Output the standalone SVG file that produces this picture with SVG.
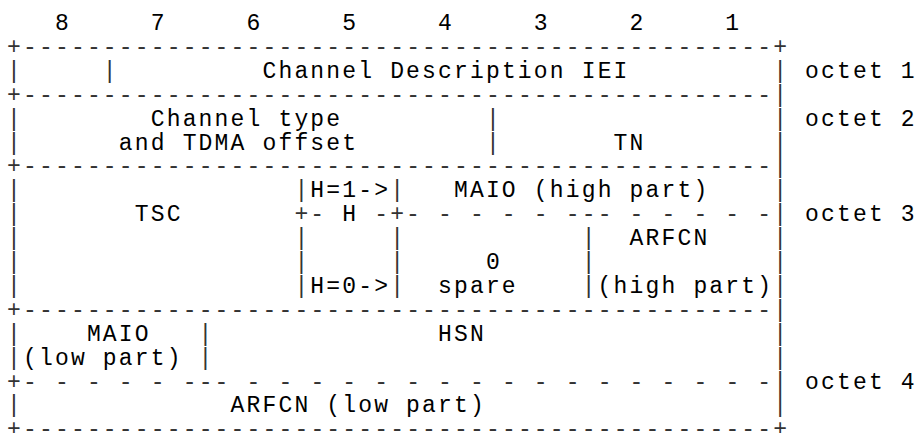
<svg xmlns="http://www.w3.org/2000/svg" width="919" height="433" viewBox="0 0 919 433">
<style>
.t { font-family: "Liberation Mono", "DejaVu Sans Mono", monospace; font-size: 23px; letter-spacing: 2.16px; fill: #000; white-space: pre; }
.f { fill: #333; }
</style>
<rect width="919" height="433" fill="#fff"/>
<g id="bit-numbers">
<text class="t" x="54.98 150.74 246.5 342.26 438.02 533.78 629.54 725.3" y="30">87654321</text>
</g>
<g id="connectors">
<text class="t f" x="7.1" y="53.9">+-----------------------------------------------+</text>
<text class="t f" x="7.1 102.86 773.18" y="77.8">|||</text>
<text class="t f" x="7.1" y="101.7">+-----------------------------------------------|</text>
<text class="t f" x="7.1 485.9 773.18" y="125.6">|||</text>
<text class="t f" x="7.1 485.9 773.18" y="149.5">|||</text>
<text class="t f" x="7.1" y="173.4">+-----------------------------------------------|</text>
<text class="t f" x="7.1 294.38 390.14 773.18" y="197.3">||||</text>
<text class="t f" x="7.1" y="221.2">|</text>
<text class="t f" x="294.38" y="221.2">+-</text>
<text class="t f" x="374.18" y="221.2">-+- - - - - --- - - - - -|</text>
<text class="t f" x="7.1 294.38 390.14 581.66 773.18" y="245.1">|||||</text>
<text class="t f" x="7.1 294.38 390.14 581.66 773.18" y="269">|||||</text>
<text class="t f" x="7.1 294.38 390.14 581.66 773.18" y="292.9">|||||</text>
<text class="t f" x="7.1" y="316.8">+-----------------------------------------------|</text>
<text class="t f" x="7.1 198.62 773.18" y="340.7">|||</text>
<text class="t f" x="7.1 198.62 773.18" y="364.6">|||</text>
<text class="t f" x="7.1" y="388.5">+- - - - - --- - - - - - - - - - - - - - - - - -|</text>
<text class="t f" x="7.1 773.18" y="412.4">||</text>
<text class="t f" x="7.1" y="435.5">+-----------------------------------------------+</text>
</g>
<g id="iei"><text class="t" x="262.46" y="77.8">Channel Description IEI</text></g>
<g id="channel-type">
<text class="t" x="150.74" y="125.6">Channel type</text>
<text class="t" x="118.82" y="149.5">and TDMA offset</text>
</g>
<g id="tn"><text class="t" x="613.58" y="149.5">TN</text></g>
<g id="tsc"><text class="t" x="134.78" y="221.2">TSC</text></g>
<g id="h-bit">
<text class="t" x="310.34" y="197.3">H=1-&gt;</text>
<text class="t" x="342.26" y="221.2">H</text>
<text class="t" x="310.34" y="292.9">H=0-&gt;</text>
</g>
<g id="maio-high"><text class="t" x="453.98" y="197.3">MAIO (high part)</text></g>
<g id="spare">
<text class="t" x="485.9" y="269">0</text>
<text class="t" x="438.02" y="292.9">spare</text>
</g>
<g id="arfcn-high">
<text class="t" x="629.54" y="245.1">ARFCN</text>
<text class="t" x="597.62" y="292.9">(high part)</text>
</g>
<g id="maio-low">
<text class="t" x="86.9" y="340.7">MAIO</text>
<text class="t" x="23.06" y="364.6">(low part)</text>
</g>
<g id="hsn"><text class="t" x="438.02" y="340.7">HSN</text></g>
<g id="arfcn-low"><text class="t" x="230.54" y="412.4">ARFCN (low part)</text></g>
<g id="octet-labels">
<text class="t" x="805.1" y="77.8">octet 1</text>
<text class="t" x="805.1" y="125.6">octet 2</text>
<text class="t" x="805.1" y="221.2">octet 3</text>
<text class="t" x="805.1" y="388.5">octet 4</text>
</g>
</svg>
